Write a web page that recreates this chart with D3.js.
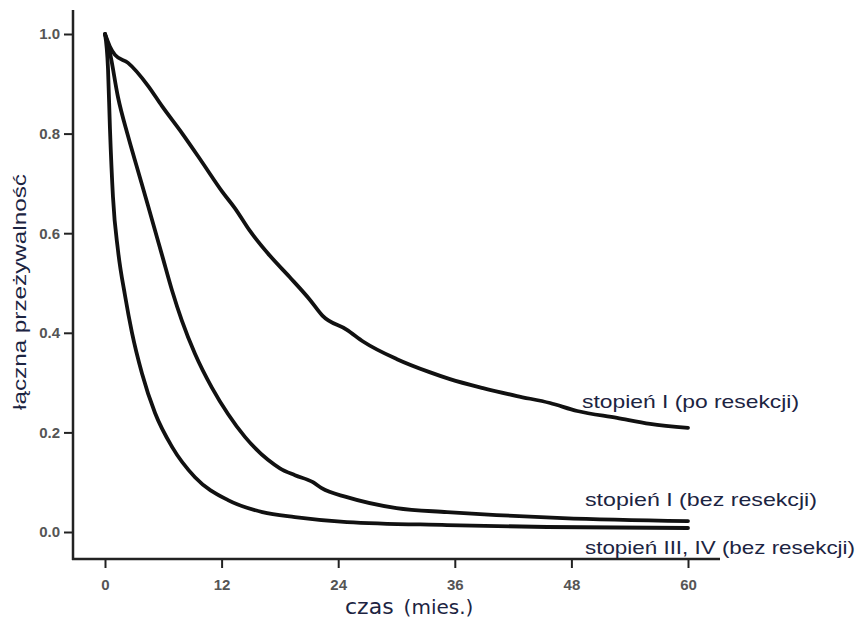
<!DOCTYPE html>
<html>
<head>
<meta charset="utf-8">
<script src="https://cdn.jsdelivr.net/npm/d3@7"></script>
<style>
    body { margin: 0; background: #fff; }
    svg { display: block; }
</style>
</head>
<body>
<div id="chart"></div>
<script>
// survival values: [month, cumulative survival]
const poResekcji = [
    [0, 1.0], [0.5, 0.975], [1.03, 0.958], [2.37, 0.942], [4.43, 0.896], [5.87, 0.855],
    [7.92, 0.801], [9.98, 0.743], [12.04, 0.684], [13.38, 0.65], [14.9, 0.605], [17, 0.554],
    [19, 0.512], [21.1, 0.466], [22.4, 0.434], [24.9, 0.406], [26.6, 0.382], [30.05, 0.347],
    [33.4, 0.321], [35.5, 0.307], [38.9, 0.289], [42.4, 0.273], [45.8, 0.259], [48.6, 0.243],
    [52.7, 0.229], [56.1, 0.217], [60, 0.209]
];
const bezResekcjiI = [
    [0, 1.0], [0.51, 0.962], [1.34, 0.873], [2.37, 0.795], [3.4, 0.725], [4.43, 0.655],
    [5.87, 0.556], [6.9, 0.485], [7.92, 0.424], [9.26, 0.358], [11.0, 0.29], [12.66, 0.237],
    [14.4, 0.191], [16.77, 0.145], [18, 0.128], [19.55, 0.114], [21.4, 0.1], [22.3, 0.088],
    [24.9, 0.07], [30, 0.048], [35.2, 0.04], [40.3, 0.034], [47.1, 0.028], [60, 0.022]
];
const bezResekcjiIII = [
    [0, 1.0], [0.31, 0.93], [0.51, 0.81], [0.82, 0.673], [1.34, 0.565], [2.06, 0.475],
    [2.78, 0.4], [3.8, 0.319], [5.15, 0.239], [6.9, 0.171], [9.26, 0.11], [12.66, 0.064],
    [16.2, 0.04], [19.55, 0.03], [24.9, 0.02], [35.2, 0.014], [45.5, 0.01], [60, 0.008]
];
const seriesLabels = ['stopień I (po resekcji)', 'stopień I (bez resekcji)', 'stopień III, IV (bez resekcji)'];
const xTicks = [0, 12, 24, 36, 48, 60];
const yTicks = [0.0, 0.2, 0.4, 0.6, 0.8, 1.0];

const width = 859, height = 619;
const textColor = '#1c2442';

const svg = d3.select('#chart')
    .append('svg')
    .attr('width', width)
    .attr('height', height);

const xScale = d3.scaleLinear().domain([0, 60]).range([105, 688]);
const yScale = d3.scaleLinear().domain([0, 1]).range([532, 34]);

const axisX = 73, axisY = 559;

// axes
const yAxis = svg.append('g')
    .attr('transform', `translate(${axisX},0)`)
    .call(d3.axisLeft(yScale).tickValues(yTicks).tickFormat(d3.format('.1f')).tickSize(9).tickPadding(4));
const xAxis = svg.append('g')
    .attr('transform', `translate(0,${axisY})`)
    .call(d3.axisBottom(xScale).tickValues(xTicks).tickSize(9).tickPadding(11));

[xAxis, yAxis].forEach(g => {
    g.select('.domain').remove();
    g.selectAll('.tick line').attr('stroke', '#222').attr('stroke-width', 2);
    g.selectAll('.tick text')
        .attr('fill', '#555')
        .style('font-family', 'Liberation Sans, Arial, sans-serif')
        .style('font-size', '15px')
        .style('font-weight', 'bold');
});

svg.append('line')
    .attr('x1', axisX).attr('x2', axisX)
    .attr('y1', 10).attr('y2', axisY + 1)
    .attr('stroke', '#222').attr('stroke-width', 2.5);
svg.append('line')
    .attr('x1', axisX - 1).attr('x2', 720)
    .attr('y1', axisY).attr('y2', axisY)
    .attr('stroke', '#222').attr('stroke-width', 2.5);

// curves
const line = d3.line()
    .x(d => xScale(d[0]))
    .y(d => yScale(d[1]))
    .curve(d3.curveMonotoneX);

[poResekcji, bezResekcjiI, bezResekcjiIII].forEach(data => {
    svg.append('path')
        .datum(data)
        .attr('d', line)
        .attr('fill', 'none')
        .attr('stroke', '#111')
        .attr('stroke-width', 3.8)
        .attr('stroke-linejoin', 'round')
        .attr('stroke-linecap', 'round');
});

// curve labels
const labelPos = [
    { x: 582, y: 408, w: 217 },
    { x: 585, y: 506, w: 232 },
    { x: 585, y: 554, w: 270 }
];
seriesLabels.forEach((t, i) => {
    svg.append('text')
        .attr('x', labelPos[i].x)
        .attr('y', labelPos[i].y)
        .attr('textLength', labelPos[i].w)
        .attr('lengthAdjust', 'spacingAndGlyphs')
        .attr('fill', textColor)
        .style('font-family', 'Liberation Sans, Arial, sans-serif')
        .style('font-size', '19px')
        .text(t);
});

// axis titles
svg.append('text')
    .attr('transform', 'translate(26,292) rotate(-90)')
    .attr('text-anchor', 'middle')
    .attr('fill', textColor)
    .attr('textLength', 236)
    .attr('lengthAdjust', 'spacingAndGlyphs')
    .style('font-family', 'Liberation Sans, Arial, sans-serif')
    .style('font-size', '19px')
    .text('łączna przeżywalność');

const xTitle = svg.append('text')
    .attr('x', 345)
    .attr('y', 614)
    .attr('fill', textColor)
    .style('font-family', 'DejaVu Sans, Verdana, sans-serif');
xTitle.append('tspan').style('font-size', '22px').text('czas');
xTitle.append('tspan').attr('dx', 10).style('font-size', '20px').text('(mies.)');
</script>
</body>
</html>
